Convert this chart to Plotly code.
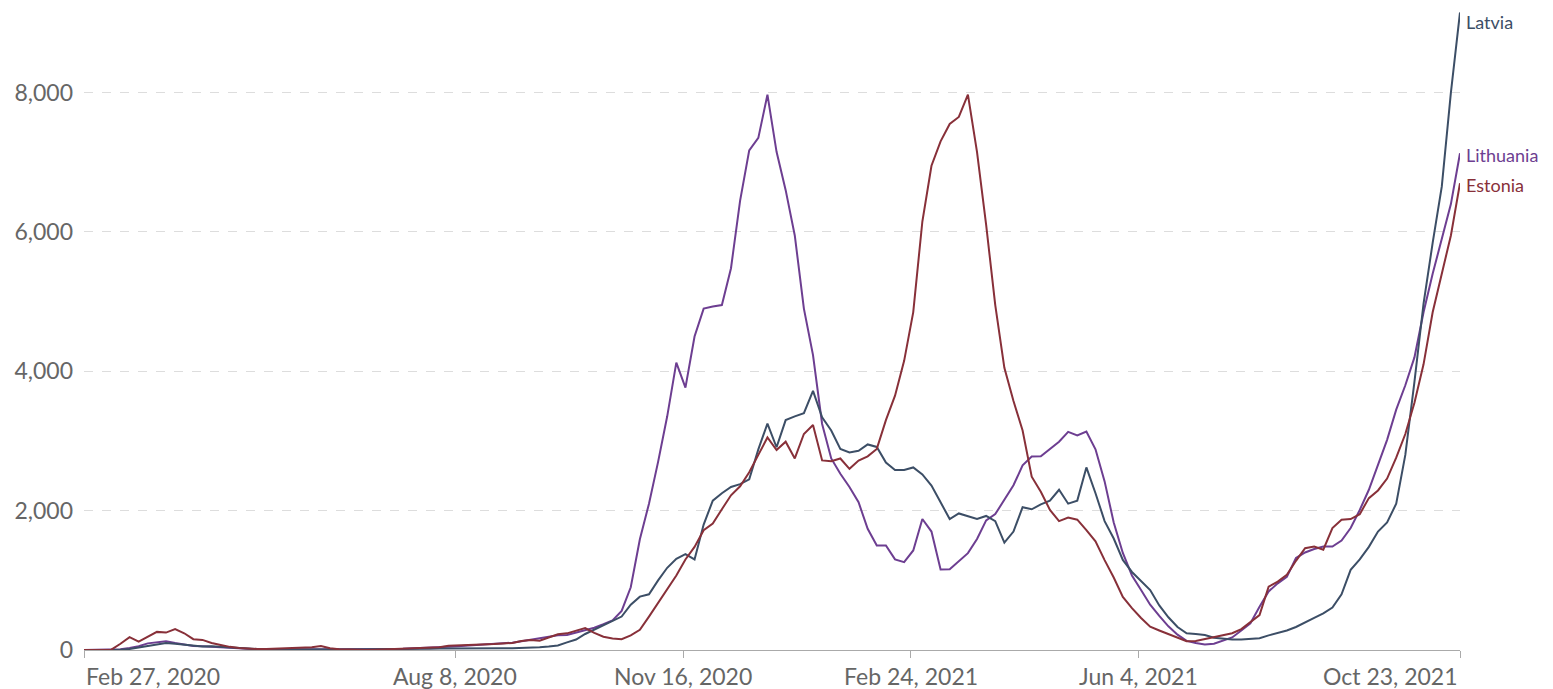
import pandas as pd
import plotly.graph_objects as go

# ---- data (weekly cases per million, every 4 days) ----
start_date = "2020-02-27"
n_points = 152
dates = pd.date_range(start_date, periods=n_points, freq="4D")

estonia = [0, 0, 0, 5, 90, 185, 120, 190, 260, 250, 300, 240, 155, 145, 100, 72, 45, 30, 18, 14,
           15, 20, 24, 25, 30, 40, 57, 25, 10, 5, 2, 0, 5, 10, 10, 10, 15, 20, 30, 40,
           62, 65, 68, 72, 75, 85, 95, 100, 130, 144, 134, 180, 225, 239, 280, 315, 245, 190, 165, 155,
           210, 290, 480, 680, 880, 1070, 1300, 1480, 1720, 1814, 2020, 2220, 2350, 2550, 2800, 3050, 2870, 2990, 2750, 3100,
           3230, 2721, 2710, 2749, 2600, 2720, 2780, 2886, 3300, 3650, 4150, 4850, 6150, 6950, 7300, 7550, 7650, 7972, 7147, 6100,
           4950, 4050, 3574, 3150, 2488, 2270, 2011, 1850, 1900, 1870, 1720, 1560, 1290, 1040, 761, 600, 460, 335, 280, 230,
           170, 125, 130, 160, 180, 210, 240, 300, 400, 500, 909, 981, 1080, 1280, 1460, 1484, 1440, 1750, 1870, 1880,
           1950, 2180, 2290, 2460, 2760, 3100, 3550, 4100, 4848, 5400, 5950, 6700]

lithuania = [0, 0, 0, 0, 10, 30, 55, 95, 115, 125, 100, 75, 57, 55, 48, 35, 25, 18, 12, 10,
             8, 8, 6, 5, 5, 5, 5, 5, 5, 5, 6, 8, 10, 12, 15, 18, 22, 28, 35, 42,
             48, 55, 62, 70, 78, 88, 98, 105, 125, 145, 167, 185, 210, 215, 250, 280, 320, 370, 425, 560,
             900, 1590, 2100, 2700, 3354, 4124, 3766, 4500, 4900, 4930, 4950, 5480, 6450, 7170, 7350, 7970, 7150, 6600, 5950, 4900,
             4233, 3244, 2750, 2530, 2340, 2120, 1740, 1500, 1500, 1300, 1260, 1429, 1880, 1700, 1155, 1160, 1280, 1390, 1594, 1860,
             1950, 2160, 2364, 2650, 2776, 2780, 2890, 2990, 3130, 3080, 3135, 2880, 2420, 1830, 1393, 1070, 860, 650, 490, 340,
             220, 130, 100, 80, 90, 130, 180, 280, 383, 620, 840, 957, 1050, 1320, 1400, 1450, 1484, 1484, 1570, 1750,
             2010, 2300, 2650, 3016, 3450, 3800, 4200, 4848, 5400, 5900, 6400, 7130]

latvia = [0, 0, 0, 0, 5, 15, 35, 60, 85, 100, 90, 75, 55, 50, 55, 45, 35, 25, 18, 15,
          12, 10, 10, 10, 8, 8, 8, 8, 8, 8, 8, 10, 10, 12, 12, 14, 15, 16, 18, 20,
          22, 22, 22, 24, 24, 24, 24, 24, 26, 30, 38, 50, 65, 110, 150, 230, 290, 360, 420, 480,
          650, 766, 800, 1000, 1180, 1310, 1375, 1300, 1800, 2144, 2250, 2340, 2380, 2450, 2880, 3250, 2910, 3300, 3354, 3400,
          3720, 3340, 3150, 2886, 2835, 2860, 2950, 2914, 2690, 2584, 2584, 2620, 2520, 2360, 2120, 1880, 1960, 1920, 1880, 1924,
          1850, 1540, 1700, 2050, 2020, 2090, 2144, 2300, 2100, 2144, 2620, 2250, 1850, 1600, 1292, 1120, 990, 861, 640, 470,
          330, 239, 230, 215, 175, 160, 150, 150, 160, 170, 210, 245, 280, 330, 390, 460, 526, 610, 800, 1150,
          1300, 1480, 1700, 1830, 2100, 2800, 3850, 4973, 5843, 6650, 8000, 9150]

tick_dates = ["2020-02-27", "2020-08-08", "2020-11-16", "2021-02-24", "2021-06-04", "2021-10-23"]
tick_labels = ["Feb 27, 2020", "Aug 8, 2020", "Nov 16, 2020", "Feb 24, 2021", "Jun 4, 2021", "Oct 23, 2021"]
y_ticks = [0, 2000, 4000, 6000, 8000]

series = [
    ("Lithuania", lithuania, "#6D3E91"),
    ("Latvia", latvia, "#3C4E66"),
    ("Estonia", estonia, "#883039"),
]
label_values = {"Latvia": 9020, "Lithuania": 7110, "Estonia": 6680}

FONT = "Lato, sans-serif"
fig = go.Figure()
for name, vals, col in series:
    fig.add_trace(go.Scatter(x=dates, y=vals, mode="lines", name=name,
                             line=dict(color=col, width=2)))

# end-of-line labels
for name, vals, col in series:
    fig.add_annotation(x=dates[-1], y=label_values[name], text=name, showarrow=False,
                       xanchor="left", yanchor="middle", xshift=4,
                       font=dict(family=FONT, size=18, color=col))

# x tick labels as annotations (first left-aligned, last right-aligned)
for i, (d, t) in enumerate(zip(tick_dates, tick_labels)):
    anchor = "left" if i == 0 else ("right" if i == len(tick_dates) - 1 else "center")
    fig.add_annotation(x=d, y=0, yref="paper", text=t, showarrow=False,
                       xanchor=anchor, yanchor="top", yshift=-10,
                       font=dict(family=FONT, size=23, color="#666666"))

# the page body adds an 8px offset; compensate so the plot lands where the reference has it
fig.update_layout(
    width=1545, height=681,
    margin=dict(l=76, r=93, t=1, b=39),
    paper_bgcolor="white", plot_bgcolor="white",
    showlegend=False,
    font=dict(family=FONT, color="#666666"),
)
fig.update_xaxes(
    type="date", range=[dates[0], dates[-1]],
    tickvals=tick_dates, showticklabels=False,
    ticks="outside", ticklen=7, tickcolor="#aaaaaa", tickwidth=1,
    showline=True, linecolor="#aaaaaa", linewidth=1,
    showgrid=False, zeroline=False, automargin=False,
)
fig.update_yaxes(
    range=[0, 9200], tickvals=y_ticks, tickformat=",",
    showgrid=True, gridcolor="#dddddd", griddash="dash", gridwidth=1,
    zeroline=False, showline=False, ticks="",
    ticklabelstandoff=10, automargin=False,
    tickfont=dict(family=FONT, size=23, color="#666666"),
)

fig.write_html("out.html")
